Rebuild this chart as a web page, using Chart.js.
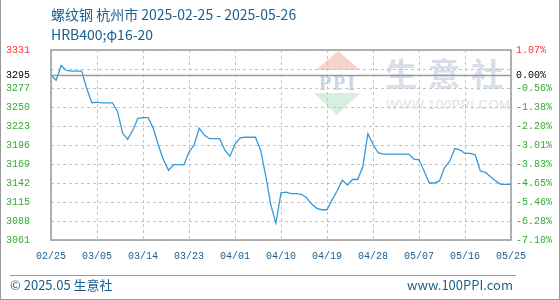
<!DOCTYPE html>
<html>
<head>
<meta charset="utf-8">
<script src="https://cdn.jsdelivr.net/npm/chart.js@4"></script>
<style>
html,body{margin:0;padding:0;background:#fff;}
#wrap{position:relative;width:560px;height:300px;overflow:hidden;background:#fff;box-sizing:border-box;border-left:1px solid #999;border-right:1px solid #999;border-bottom:1px solid #999;}
#c{position:absolute;left:0;top:0;}
.t{position:absolute;font-family:"Noto Sans CJK SC","Noto Sans",sans-serif;color:#1b5f8e;white-space:nowrap;}
.wm{position:absolute;}
</style>
</head>
<body>
<div id="wrap">
  <div class="wm" style="left:315px;top:51px;width:0;height:0;border-left:22.5px solid transparent;border-right:22.5px solid transparent;border-bottom:19px solid #f8d3cd;"></div>
  <div class="wm" style="left:312px;top:73px;width:50px;text-align:center;font:bold 20px 'Liberation Serif',serif;color:#cdd3e4;letter-spacing:2px;line-height:20px;">PPI</div>
  <div class="wm" style="left:313px;top:93px;width:0;height:0;border-left:23.5px solid transparent;border-right:23.5px solid transparent;border-top:22px solid #d7efdc;"></div>
  <div class="wm" style="left:384px;top:50px;font:bold 32px 'Noto Sans CJK SC',sans-serif;color:#d9dee9;letter-spacing:11px;line-height:44px;">生意社</div>
  <div class="wm" style="left:385px;top:97px;font:13px 'Liberation Sans',sans-serif;color:#e2e2e2;letter-spacing:0.6px;line-height:16px;">WWW.100PPI.COM</div>
  <canvas id="c" width="560" height="300"></canvas>
  <div class="t" style="left:50px;top:4px;font-size:14px;line-height:20px;">螺纹钢 杭州市 2025-02-25 - 2025-05-26</div>
  <div class="t" style="left:50px;top:24px;font-size:14px;line-height:20px;">HRB400;φ16-20</div>
  <div style="position:absolute;left:9px;top:275px;width:506px;height:0;border-top:1px solid #9a9a9a;"></div>
  <div class="t" style="left:9px;top:276px;font-size:13px;line-height:18px;">© 2025.05 生意社</div>
  <div class="t" style="right:46px;top:276px;font-size:13px;line-height:18px;">www.100PPI.com</div>
</div>
<script>
const xTickLabels = ['02/25','03/05','03/14','03/23','04/01','04/10','04/19','04/28','05/07','05/16','05/25'];
const prices = [
  3295,3288,3309,3302,3301,3301,3301,3276,3256,3257,
  3256,3256,3256,3244,3213,3204,3217,3234,3235,3235,
  3220,3196,3175,3160,3168,3168,3168,3186,3196,3220,
  3210,3205,3205,3205,3189,3180,3197,3206,3207,3207,
  3207,3189,3153,3111,3085,3128,3129,3127,3127,3126,
  3121,3112,3106,3104,3104,3118,3131,3146,3139,3147,
  3147,3165,3212,3197,3185,3183,3183,3183,3183,3183,
  3183,3176,3175,3159,3142,3142,3145,3164,3173,3191,
  3189,3184,3184,3182,3159,3157,3151,3145,3140,3140,3140
];
const yTicks = [3061,3088,3115,3142,3169,3196,3223,3250,3277,3295,3304,3331];
const yTickLabels = ['3061','3088','3115','3142','3169','3196','3223','3250','3277','3295','','3331'];
const pctTickLabels = ['-7.10%','-6.28%','-5.46%','-4.65%','-3.83%','-3.01%','-2.20%','-1.38%','-0.56%','0.00%','','1.07%'];
const baseValue = 3295;

const RED='#ff3333', GREEN='#33aa33', BLACK='#000000', BLUE='#1b5f8e';
const monoFont = {family:"'Liberation Mono','DejaVu Sans Mono',monospace", size:10};
function tickColor(ctx){
  const v = ctx.tick ? ctx.tick.value : null;
  if (v === yTicks[yTicks.length-1]) return RED;
  if (v === baseValue) return BLACK;
  return GREEN;
}
const yMin = yTicks[0], yMax = yTicks[yTicks.length-1];
const frame = {
  id:'frame',
  afterDraw(chart){
    const {ctx, chartArea:a, scales} = chart;
    ctx.save();
    const y = Math.round(scales.y.getPixelForValue(baseValue)) + 0.5;
    ctx.strokeStyle = '#9a9a9a';
    ctx.lineWidth = 1.5;
    ctx.beginPath(); ctx.moveTo(a.left, y); ctx.lineTo(a.right, y); ctx.stroke();
    ctx.strokeRect(a.left, a.top, a.right - a.left, a.bottom - a.top);
    ctx.restore();
  }
};
new Chart(document.getElementById('c'), {
  type:'line',
  data:{datasets:[{
    data: prices.map((v,i)=>({x:i, y:v})),
    borderColor:'#3799da', borderWidth:1.3, pointRadius:0, tension:0, fill:false
  }]},
  options:{
    responsive:false, animation:false,
    layout:{padding:{left:5, right:5, top:50, bottom:30}},
    plugins:{legend:{display:false}, tooltip:{enabled:false}},
    scales:{
      x:{
        type:'linear', min:0, max:(xTickLabels.length-1)*9,
        afterBuildTicks(s){ s.ticks = xTickLabels.map((_,i)=>({value:i*9})); },
        afterFit(s){ s.height = 30; },
        ticks:{autoSkip:false, maxRotation:0, padding:10, color:BLUE, font:monoFont,
          callback:(v,i)=>xTickLabels[i]},
        grid:{color:'#c4c4c4', drawTicks:false},
        border:{display:false, dash:[3,3]}
      },
      y:{
        position:'left', min:yMin, max:yMax,
        afterBuildTicks(s){ s.ticks = yTicks.map(v=>({value:v})); },
        afterFit(s){ s.width = 45; },
        ticks:{autoSkip:false, crossAlign:'far', color:tickColor, font:monoFont,
          callback:(v)=>yTickLabels[yTicks.indexOf(v)]},
        grid:{color:(c)=> (c.tick && c.tick.value===baseValue) ? 'rgba(0,0,0,0)' : '#c4c4c4', drawTicks:false},
        border:{display:false, dash:[3,3]}
      },
      y2:{
        position:'right', min:yMin, max:yMax,
        afterBuildTicks(s){ s.ticks = yTicks.map(v=>({value:v})); },
        afterFit(s){ s.width = 45; },
        ticks:{autoSkip:false, padding:5, color:tickColor, font:monoFont,
          callback:(v)=>pctTickLabels[yTicks.indexOf(v)]},
        grid:{display:false, drawTicks:false},
        border:{display:false}
      }
    }
  },
  plugins:[frame]
});
</script>
</body>
</html>
